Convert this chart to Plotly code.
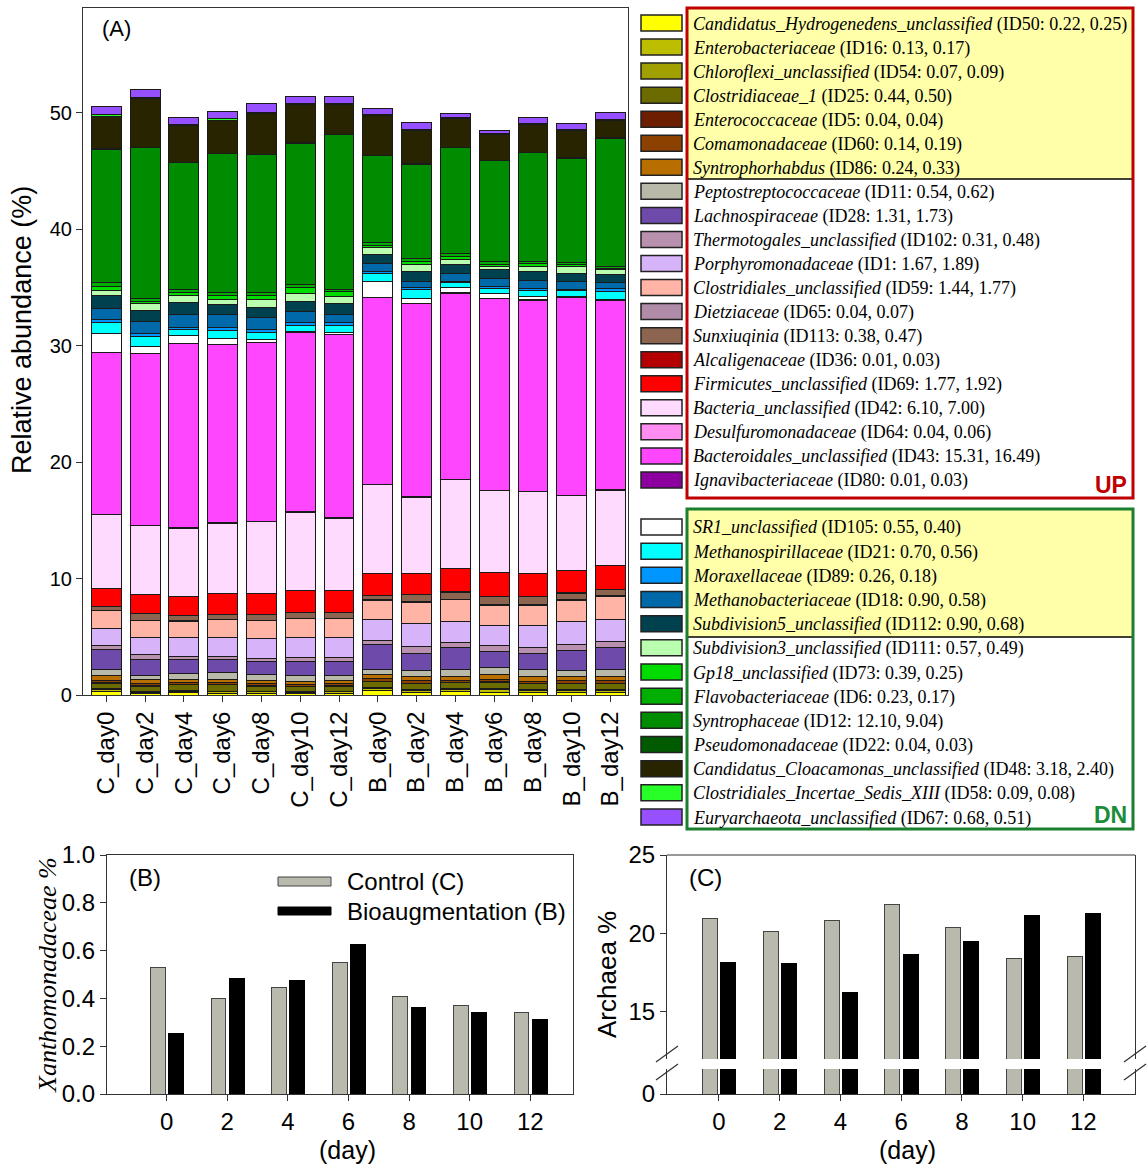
import plotly.graph_objects as go

W, H = 1148, 1164
SANS = "Liberation Sans, Arial, sans-serif"
SERIF = "Liberation Serif, Times New Roman, serif"


def px(x):
    return x / W


def py(y):
    return 1 - y / H


# ---------------- data: panel A ----------------
samples = ["C_day0", "C_day2", "C_day4", "C_day6", "C_day8", "C_day10", "C_day12",
           "B_day0", "B_day2", "B_day4", "B_day6", "B_day8", "B_day10", "B_day12"]

taxa = ["Candidatus_Hydrogenedens_unclassified", "Enterobacteriaceae", "Chloroflexi_unclassified",
        "Clostridiaceae_1", "Enterococcaceae", "Comamonadaceae", "Syntrophorhabdus",
        "Peptostreptococcaceae", "Lachnospiraceae", "Thermotogales_unclassified", "Porphyromonadaceae",
        "Clostridiales_unclassified", "Dietziaceae", "Sunxiuqinia", "Alcaligenaceae",
        "Firmicutes_unclassified", "Bacteria_unclassified", "Desulfuromonadaceae",
        "Bacteroidales_unclassified", "Ignavibacteriaceae",
        "SR1_unclassified", "Methanospirillaceae", "Moraxellaceae", "Methanobacteriaceae",
        "Subdivision5_unclassified", "Subdivision3_unclassified", "Gp18_unclassified",
        "Flavobacteriaceae", "Syntrophaceae", "Pseudomonadaceae",
        "Candidatus_Cloacamonas_unclassified", "Clostridiales_Incertae_Sedis_XIII",
        "Euryarchaeota_unclassified"]

taxon_ids = ["ID50", "ID16", "ID54", "ID25", "ID5", "ID60", "ID86", "ID11", "ID28", "ID102", "ID1",
             "ID59", "ID65", "ID113", "ID36", "ID69", "ID42", "ID64", "ID43", "ID80",
             "ID105", "ID21", "ID89", "ID18", "ID112", "ID111", "ID73", "ID6", "ID12", "ID22",
             "ID48", "ID58", "ID67"]
mean_c = ["0.22", "0.13", "0.07", "0.44", "0.04", "0.14", "0.24", "0.54", "1.31", "0.31", "1.67",
          "1.44", "0.04", "0.38", "0.01", "1.77", "6.10", "0.04", "15.31", "0.01",
          "0.55", "0.70", "0.26", "0.90", "0.90", "0.57", "0.39", "0.23", "12.10", "0.04",
          "3.18", "0.09", "0.68"]
mean_b = ["0.25", "0.17", "0.09", "0.50", "0.04", "0.19", "0.33", "0.62", "1.73", "0.48", "1.89",
          "1.77", "0.07", "0.47", "0.03", "1.92", "7.00", "0.06", "16.49", "0.03",
          "0.40", "0.56", "0.18", "0.58", "0.68", "0.49", "0.25", "0.17", "9.04", "0.03",
          "2.40", "0.08", "0.51"]
taxa_colors = ["#FFFF00", "#BEBE00", "#A0A000", "#6B6B00", "#6E1E00", "#8C4100", "#B96E00",
               "#B9B9AA", "#6E4BAA", "#B991AF", "#D7B4FA", "#FFB4A5", "#B08CA8", "#8C6450",
               "#B40000", "#FF0000", "#FFDAFF", "#FF8CF0", "#FF46FF", "#8C00A0",
               "#FFFFFF", "#00FFFF", "#0096FF", "#0069AA", "#004150", "#B9FFAF", "#00DC00",
               "#00AF00", "#008C00", "#005A00", "#282400", "#28FF28", "#9650FF"]

# relative abundance (%) per sample, C_day0..C_day12, B_day0..B_day12
cand_hydrogenedens = [0.30, 0.12, 0.20, 0.15, 0.14, 0.10, 0.12, 0.35, 0.20, 0.30, 0.25, 0.20, 0.22, 0.20]
enterobacteriaceae = [0.14, 0.12, 0.13, 0.12, 0.12, 0.13, 0.14, 0.17, 0.18, 0.16, 0.18, 0.17, 0.17, 0.17]
chloroflexi = [0.08, 0.07, 0.07, 0.06, 0.06, 0.07, 0.07, 0.10, 0.09, 0.08, 0.10, 0.09, 0.09, 0.10]
clostridiaceae_1 = [0.50, 0.45, 0.50, 0.55, 0.45, 0.42, 0.42, 0.50, 0.50, 0.50, 0.55, 0.50, 0.50, 0.48]
enterococcaceae = [0.06, 0.04, 0.04, 0.04, 0.04, 0.03, 0.03, 0.05, 0.04, 0.04, 0.04, 0.04, 0.04, 0.04]
comamonadaceae = [0.18, 0.20, 0.17, 0.15, 0.20, 0.15, 0.17, 0.25, 0.27, 0.20, 0.25, 0.20, 0.21, 0.24]
syntrophorhabdus = [0.40, 0.30, 0.24, 0.30, 0.25, 0.30, 0.30, 0.30, 0.35, 0.35, 0.40, 0.37, 0.40, 0.40]
peptostreptococcaceae = [0.49, 0.39, 0.48, 0.52, 0.46, 0.45, 0.45, 0.51, 0.45, 0.58, 0.58, 0.58, 0.50, 0.52]
lachnospiraceae = [1.77, 1.32, 1.24, 1.16, 1.14, 1.20, 1.15, 2.10, 1.52, 1.86, 1.37, 1.43, 1.70, 1.95]
thermotogales = [0.29, 0.45, 0.23, 0.25, 0.30, 0.34, 0.34, 0.38, 0.60, 0.45, 0.50, 0.50, 0.50, 0.48]
porphyromonadaceae = [1.52, 1.50, 1.60, 1.65, 1.72, 1.75, 1.72, 1.75, 1.95, 1.78, 1.72, 1.92, 1.97, 1.92]
clostridiales_unc = [1.49, 1.43, 1.45, 1.50, 1.50, 1.60, 1.65, 1.68, 1.81, 1.86, 1.76, 1.70, 1.80, 2.00]
dietziaceae = [0.04, 0.05, 0.04, 0.04, 0.04, 0.04, 0.04, 0.05, 0.08, 0.08, 0.08, 0.08, 0.07, 0.07]
sunxiuqinia = [0.32, 0.53, 0.45, 0.42, 0.46, 0.47, 0.45, 0.34, 0.55, 0.60, 0.68, 0.68, 0.58, 0.48]
alcaligenaceae = [0.01, 0.02, 0.03, 0.02, 0.02, 0.02, 0.02, 0.03, 0.03, 0.04, 0.04, 0.04, 0.04, 0.03]
firmicutes_unc = [1.52, 1.63, 1.63, 1.83, 1.78, 1.89, 1.92, 1.84, 1.78, 2.00, 1.98, 1.93, 1.92, 2.00]
bacteria_unc = [6.35, 5.90, 5.82, 5.99, 6.18, 6.73, 6.19, 7.64, 6.60, 7.59, 7.05, 7.01, 6.39, 6.52]
desulfuromonadaceae = [0.04, 0.05, 0.03, 0.04, 0.04, 0.05, 0.04, 0.06, 0.07, 0.05, 0.06, 0.06, 0.07, 0.05]
bacteroidales_unc = [13.90, 14.73, 15.83, 15.27, 15.36, 15.36, 15.76, 16.00, 16.56, 16.00, 16.43, 16.40, 17.00, 16.21]
ignavibacteriaceae = [0.01, 0.01, 0.01, 0.01, 0.01, 0.01, 0.01, 0.03, 0.02, 0.04, 0.03, 0.03, 0.02, 0.03]
sr1_unc = [1.60, 0.64, 0.66, 0.58, 0.24, 0.12, 0.13, 1.34, 0.37, 0.42, 0.39, 0.29, 0.07, 0.06]
methanospirillaceae = [0.95, 0.87, 0.53, 0.64, 0.63, 0.48, 0.64, 0.77, 0.81, 0.42, 0.46, 0.53, 0.45, 0.72]
moraxellaceae = [0.33, 0.24, 0.17, 0.24, 0.24, 0.28, 0.26, 0.13, 0.13, 0.14, 0.15, 0.14, 0.13, 0.25]
methanobacteriaceae = [0.92, 1.00, 1.13, 1.11, 1.00, 0.93, 0.65, 0.67, 0.59, 0.70, 0.71, 0.70, 0.69, 0.47]
subdivision5_unc = [1.10, 0.95, 1.06, 0.91, 0.93, 0.87, 0.97, 0.79, 0.85, 0.77, 0.78, 0.82, 0.69, 0.72]
subdivision3_unc = [0.40, 0.58, 0.53, 0.44, 0.69, 0.69, 0.57, 0.56, 0.59, 0.39, 0.27, 0.41, 0.57, 0.39]
gp18_unc = [0.40, 0.24, 0.32, 0.31, 0.35, 0.52, 0.45, 0.21, 0.26, 0.27, 0.19, 0.20, 0.19, 0.15]
flavobacteriaceae = [0.30, 0.26, 0.25, 0.27, 0.24, 0.28, 0.13, 0.24, 0.21, 0.22, 0.19, 0.20, 0.19, 0.19]
syntrophaceae = [11.45, 12.90, 10.85, 11.94, 11.80, 12.12, 13.31, 7.46, 8.14, 9.11, 8.70, 9.37, 8.93, 10.99]
pseudomonadaceae = [0.04, 0.05, 0.04, 0.03, 0.04, 0.04, 0.04, 0.03, 0.03, 0.03, 0.03, 0.03, 0.03, 0.03]
cloacamonas_unc = [2.82, 4.17, 3.17, 2.83, 3.47, 3.30, 2.54, 3.47, 2.89, 2.45, 2.18, 2.37, 2.35, 1.47]
incertae_sedis_xiii = [0.10, 0.08, 0.09, 0.10, 0.09, 0.08, 0.09, 0.08, 0.07, 0.09, 0.08, 0.08, 0.09, 0.07]
euryarchaeota_unc = [0.75, 0.75, 0.57, 0.63, 0.77, 0.54, 0.60, 0.46, 0.60, 0.34, 0.31, 0.49, 0.49, 0.66]

abundance = [cand_hydrogenedens, enterobacteriaceae, chloroflexi, clostridiaceae_1, enterococcaceae,
             comamonadaceae, syntrophorhabdus, peptostreptococcaceae, lachnospiraceae, thermotogales,
             porphyromonadaceae, clostridiales_unc, dietziaceae, sunxiuqinia, alcaligenaceae,
             firmicutes_unc, bacteria_unc, desulfuromonadaceae, bacteroidales_unc, ignavibacteriaceae,
             sr1_unc, methanospirillaceae, moraxellaceae, methanobacteriaceae, subdivision5_unc,
             subdivision3_unc, gp18_unc, flavobacteriaceae, syntrophaceae, pseudomonadaceae,
             cloacamonas_unc, incertae_sedis_xiii, euryarchaeota_unc]
n_up = 20  # first 20 taxa are "UP", remaining "DN"

# ---------------- data: panels B and C ----------------
days = [0, 2, 4, 6, 8, 10, 12]
xantho_control = [0.53, 0.40, 0.445, 0.55, 0.41, 0.37, 0.34]
xantho_bioaug = [0.255, 0.485, 0.475, 0.625, 0.36, 0.34, 0.31]
archaea_control = [20.95, 20.1, 20.84, 21.86, 20.38, 18.42, 18.55]
archaea_bioaug = [18.17, 18.1, 16.25, 18.65, 19.5, 21.14, 21.27]

GRAY = "#B9B9AE"
EDGE = "#1a1a1a"

fig = go.Figure()

# ---------------- panel A ----------------
for name, col, vals in zip(taxa, taxa_colors, abundance):
    fig.add_trace(go.Bar(x=samples, y=vals, name=name, width=0.77,
                         marker=dict(color=col, line=dict(color=EDGE, width=1)),
                         xaxis="x", yaxis="y", showlegend=False))

# ---------------- panel B ----------------
fig.add_trace(go.Bar(x=[d - 0.29 for d in days], y=xantho_control, width=0.49,
                     marker=dict(color=GRAY, line=dict(color="#444", width=1)),
                     xaxis="x2", yaxis="y2", showlegend=False, name="Control (C)"))
fig.add_trace(go.Bar(x=[d + 0.31 for d in days], y=xantho_bioaug, width=0.49,
                     marker=dict(color="#000000", line=dict(color="#000", width=1)),
                     xaxis="x2", yaxis="y2", showlegend=False, name="Bioaugmentation (B)"))

# ---------------- panel C (broken axis: upper y3, lower y4) ----------------
for ya in ["y3", "y4"]:
    fig.add_trace(go.Bar(x=[d - 0.29 for d in days], y=archaea_control, width=0.49,
                         marker=dict(color=GRAY, line=dict(color="#444", width=1)),
                         xaxis="x3", yaxis=ya, showlegend=False, name="Control (C)"))
    fig.add_trace(go.Bar(x=[d + 0.31 for d in days], y=archaea_bioaug, width=0.49,
                         marker=dict(color="#000000", line=dict(color="#000", width=1)),
                         xaxis="x3", yaxis=ya, showlegend=False, name="Bioaugmentation (B)"))

axis_common = dict(showline=True, linecolor="#333", linewidth=1.2, ticks="outside",
                   ticklen=6, tickcolor="#333", showgrid=False, zeroline=False)

fig.update_layout(
    width=W, height=H, margin=dict(l=0, r=0, t=0, b=0, autoexpand=False),
    paper_bgcolor="white", plot_bgcolor="white",
    barmode="stack", showlegend=False,
    font=dict(family=SANS, color="black"),
    xaxis=dict(domain=[px(83), px(628)], anchor="y", type="category", range=[-0.6, 13.45],
               tickangle=-90, tickfont=dict(size=24, family=SANS), mirror=True, **axis_common),
    yaxis=dict(domain=[py(695), py(8)], anchor="x", range=[0, 59], tickvals=[0, 10, 20, 30, 40, 50],
               tickfont=dict(size=20, family=SANS), mirror=True, **axis_common),
    xaxis2=dict(domain=[px(107), px(573)], anchor="y2", range=[-1.97, 13.41], tickvals=days,
                tickfont=dict(size=24, family=SANS), mirror=True, **axis_common),
    yaxis2=dict(domain=[py(1094), py(855)], anchor="x2", range=[0, 1.0],
                tickvals=[0, 0.2, 0.4, 0.6, 0.8, 1.0], ticktext=["0.0", "0.2", "0.4", "0.6", "0.8", "1.0"],
                tickfont=dict(size=24, family=SANS), mirror=True, **axis_common),
    xaxis3=dict(domain=[px(667), px(1135)], anchor="y4", range=[-1.71, 13.7], tickvals=days,
                tickfont=dict(size=24, family=SANS), **axis_common),
    yaxis3=dict(domain=[py(1059), py(855)], anchor="x3", range=[12, 25], tickvals=[15, 20, 25],
                tickfont=dict(size=24, family=SANS), mirror=True, **axis_common),
    yaxis4=dict(domain=[py(1094), py(1069)], anchor="x3", range=[0, 1.6], tickvals=[0],
                tickfont=dict(size=24, family=SANS), mirror=True, **axis_common),
)

shapes = []
annotations = []

# ---- legend boxes for panel A ----
shapes.append(dict(type="rect", xref="paper", yref="paper", x0=px(688), x1=px(1132), y0=py(179), y1=py(9),
                   fillcolor="#FFFFAA", line=dict(width=0), layer="below"))
shapes.append(dict(type="rect", xref="paper", yref="paper", x0=px(688), x1=px(1132), y0=py(637), y1=py(510),
                   fillcolor="#FFFFAA", line=dict(width=0), layer="below"))
shapes.append(dict(type="line", xref="paper", yref="paper", x0=px(688), x1=px(1132), y0=py(179), y1=py(179),
                   line=dict(color="black", width=1.5)))
shapes.append(dict(type="line", xref="paper", yref="paper", x0=px(688), x1=px(1132), y0=py(637), y1=py(637),
                   line=dict(color="black", width=1.5)))
shapes.append(dict(type="rect", xref="paper", yref="paper", x0=px(687), x1=px(1133), y0=py(498), y1=py(8),
                   line=dict(color="#C00000", width=3)))
shapes.append(dict(type="rect", xref="paper", yref="paper", x0=px(687), x1=px(1133), y0=py(829), y1=py(509),
                   line=dict(color="#1A7F2E", width=3)))

for i, (name, tid, mc, mb, col) in enumerate(zip(taxa, taxon_ids, mean_c, mean_b, taxa_colors)):
    if i < n_up:
        ry = 23 + 24.05 * i
    else:
        ry = 527 + 24.17 * (i - n_up)
    shapes.append(dict(type="rect", xref="paper", yref="paper", x0=px(641), x1=px(682),
                       y0=py(ry + 8), y1=py(ry - 8), fillcolor=col, line=dict(color="#222", width=1.5)))
    annotations.append(dict(xref="paper", yref="paper", x=px(691), y=py(ry + 1), xanchor="left",
                            yanchor="middle", showarrow=False,
                            text=f"<i>{name}</i> ({tid}: {mc}, {mb})",
                            font=dict(family=SERIF, size=18, color="black")))

annotations.append(dict(xref="paper", yref="paper", x=px(1129), y=py(485), xanchor="right", yanchor="middle",
                        showarrow=False, text="<b>UP</b>", font=dict(family=SANS, size=23, color="#C00000")))
annotations.append(dict(xref="paper", yref="paper", x=px(1129), y=py(815), xanchor="right", yanchor="middle",
                        showarrow=False, text="<b>DN</b>", font=dict(family=SANS, size=23, color="#1A8C3A")))

# ---- panel labels and titles ----
annotations += [
    dict(xref="paper", yref="paper", x=px(100), y=py(28), xanchor="left", yanchor="middle", showarrow=False,
         text="(A)", font=dict(family=SANS, size=22)),
    dict(xref="paper", yref="paper", x=px(22), y=py(330), xanchor="center", yanchor="middle", showarrow=False,
         text="Relative abundance (%)", textangle=-90, font=dict(family=SANS, size=27)),
    dict(xref="paper", yref="paper", x=px(127), y=py(877), xanchor="left", yanchor="middle", showarrow=False,
         text="(B)", font=dict(family=SANS, size=24)),
    dict(xref="paper", yref="paper", x=px(687), y=py(877), xanchor="left", yanchor="middle", showarrow=False,
         text="(C)", font=dict(family=SANS, size=24)),
    dict(xref="paper", yref="paper", x=px(47), y=py(975), xanchor="center", yanchor="middle", showarrow=False,
         text="<i>Xanthomonadaceae %</i>", textangle=-90, font=dict(family=SERIF, size=26)),
    dict(xref="paper", yref="paper", x=px(607), y=py(975), xanchor="center", yanchor="middle", showarrow=False,
         text="Archaea %", textangle=-90, font=dict(family=SANS, size=26)),
    dict(xref="paper", yref="paper", x=px(347), y=py(1150), xanchor="center", yanchor="middle", showarrow=False,
         text="(day)", font=dict(family=SANS, size=25)),
    dict(xref="paper", yref="paper", x=px(907), y=py(1150), xanchor="center", yanchor="middle", showarrow=False,
         text="(day)", font=dict(family=SANS, size=25)),
    dict(xref="paper", yref="paper", x=px(345), y=py(881), xanchor="left", yanchor="middle", showarrow=False,
         text="Control (C)", font=dict(family=SANS, size=24)),
    dict(xref="paper", yref="paper", x=px(345), y=py(911), xanchor="left", yanchor="middle", showarrow=False,
         text="Bioaugmentation (B)", font=dict(family=SANS, size=24)),
]

# panel B legend swatches
shapes.append(dict(type="rect", xref="paper", yref="paper", x0=px(278), x1=px(331), y0=py(886), y1=py(877),
                   fillcolor=GRAY, line=dict(color="#444", width=1)))
shapes.append(dict(type="rect", xref="paper", yref="paper", x0=px(278), x1=px(331), y0=py(915), y1=py(907),
                   fillcolor="#000", line=dict(color="#000", width=1)))

# panel C top frame line and axis-break marks
shapes.append(dict(type="line", xref="paper", yref="paper", x0=px(667), x1=px(1135), y0=py(855), y1=py(855),
                   line=dict(color="#333", width=1.2)))
for xc in (667, 1135):
    for yc in (1054, 1072):
        shapes.append(dict(type="line", xref="paper", yref="paper", x0=px(xc - 11), x1=px(xc + 11),
                           y0=py(yc + 8), y1=py(yc - 8), line=dict(color="#333", width=1.2)))

fig.update_layout(shapes=shapes, annotations=annotations)
fig.write_html("out.html", include_plotlyjs=True, config={"displayModeBar": False},
               post_script="document.body.style.margin='0';document.body.style.overflow='hidden';")
